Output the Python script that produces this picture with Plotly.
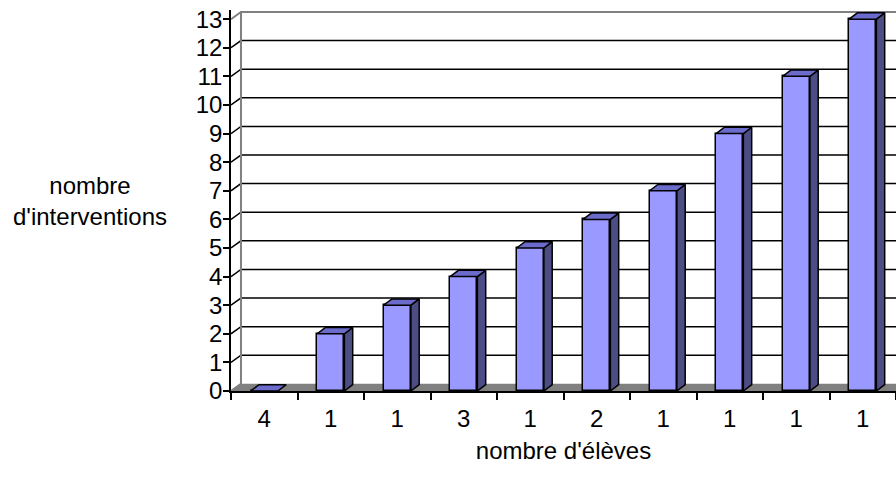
import plotly.graph_objects as go

# Number of interventions per group, and how many pupils are in each group
interventions = [0, 2, 3, 4, 5, 6, 7, 9, 11, 13]
pupils = ["4", "1", "1", "3", "1", "2", "1", "1", "1", "1"]
y_ticks = list(range(0, 14))

FRONT = "#9999FF"
SIDE = "#4D4D85"
TOP = "#6B6BCB"
WALL = "#808080"
FONT = "Liberation Sans, Arial, sans-serif"

n = len(interventions)
x = list(range(n))
half = 0.205          # half width of a column, in category units
bdx, bdy = 0.125, 0.22  # column depth offsets (x in categories, y in value units)
wdx, wdy = 0.15, 0.25   # wall depth offsets
ymax = 13.32
xl, xr = -0.5, n - 0.5

fig = go.Figure()

# front faces of the columns
fig.add_trace(go.Bar(
    x=x, y=interventions, width=2 * half,
    marker=dict(color=FRONT, line=dict(color="black", width=1.5)),
    hoverinfo="skip", showlegend=False,
))

# side and top faces, built from the same values
side_x, side_y, top_x, top_y = [], [], [], []
for xi, v in zip(x, interventions):
    r = xi + half
    l = xi - half
    if v > 0:
        side_x += [r, r, r + bdx, r + bdx, r, None]
        side_y += [0, v, v + bdy, bdy, 0, None]
    top_x += [l, r, r + bdx, l + bdx, l, None]
    top_y += [v, v, v + bdy, v + bdy, v, None]

fig.add_trace(go.Scatter(
    x=side_x, y=side_y, mode="lines", fill="toself", fillcolor=SIDE,
    line=dict(color="black", width=1.5), hoverinfo="skip", showlegend=False,
))
fig.add_trace(go.Scatter(
    x=top_x, y=top_y, mode="lines", fill="toself", fillcolor=TOP,
    line=dict(color="black", width=1.5), hoverinfo="skip", showlegend=False,
))

shapes = []
# floor
shapes.append(dict(
    type="path", layer="below", xref="x", yref="y",
    path=f"M {xl},0 L {xr + 1},0 L {xr + 1 + wdx},{wdy} L {xl + wdx},{wdy} Z",
    fillcolor=WALL, line=dict(width=0),
))
# back wall gridlines with their diagonal leaders
for k in y_ticks[1:-1]:
    shapes.append(dict(
        type="path", layer="below", xref="x", yref="y",
        path=f"M {xl},{k} L {xl + wdx},{k + wdy} L {xr + 1},{k + wdy}",
        line=dict(color="black", width=1.5),
    ))
# wall outline
top = y_ticks[-1]
shapes.append(dict(
    type="path", layer="below", xref="x", yref="y",
    path=(f"M {xl},0 L {xl + wdx},{wdy} L {xl + wdx},{top + wdy} "
          f"L {xr + 1},{top + wdy} M {xl},{top} L {xl + wdx},{top + wdy}"),
    line=dict(color=WALL, width=2),
))

fig.update_layout(
    width=896, height=478,
    margin=dict(l=231, r=0, t=10, b=87),
    paper_bgcolor="white", plot_bgcolor="white",
    font=dict(family=FONT, size=24, color="black"),
    shapes=shapes,
    bargap=0,
    xaxis=dict(
        range=[xl, xr], tickmode="array", tickvals=x, ticktext=pupils,
        ticks="outside", ticklen=5, tickcolor="rgba(0,0,0,0)",
        showline=True, linecolor="black", linewidth=1.5,
        showgrid=False, zeroline=False,
        minor=dict(ticks="outside", tickmode="linear", tick0=-0.5, dtick=1,
                   ticklen=7, tickcolor="black", tickwidth=1.5, showgrid=False),
        title=dict(text="nombre d'élèves", standoff=12,
                   font=dict(family=FONT, size=24)),
        fixedrange=True,
    ),
    yaxis=dict(
        range=[0, ymax], tickmode="array", tickvals=y_ticks,
        ticks="outside", ticklen=6, tickcolor="black", tickwidth=1.5,
        ticklabelstandoff=-4,
        showline=True, linecolor="black", linewidth=1.5,
        showgrid=False, zeroline=False, fixedrange=True,
    ),
    annotations=[dict(
        text="nombre<br>d'interventions", xref="paper", yref="paper",
        x=-0.212, y=0.5, xanchor="center", yanchor="middle",
        showarrow=False, align="center",
        font=dict(family=FONT, size=24, color="black"),
    )],
)

fig.write_html("out.html")
